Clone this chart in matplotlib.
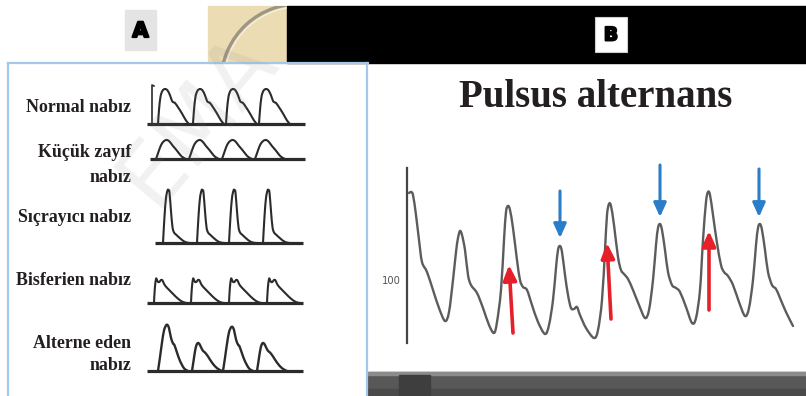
import numpy as np
import matplotlib
matplotlib.use("Agg")
import matplotlib.pyplot as plt
from matplotlib.path import Path
from matplotlib.patches import PathPatch, Rectangle, Arc, FancyArrowPatch, ArrowStyle
import matplotlib.patheffects as pe

W, H = 806, 396
DPI = 100

# ---------------- left panel: pulse types ----------------
row_labels = [["Normal nabız"], ["Küçük zayıf", "nabız"], ["Sıçrayıcı nabız"],
              ["Bisferien nabız"], ["Alterne eden", "nabız"]]
label_baselines = [[112], [157, 182], [222], [285], [348, 370]]

# beat template shapes: offset along the trace and height as a fraction of the peak
normal_dx = [0, 1, 2.5, 4.5, 7, 9.5, 12, 14, 15.5, 17, 20, 24, 28, 31]
normal_h = [0, 0.4, 0.78, 0.95, 1.0, 0.96, 0.82, 0.66, 0.62, 0.6, 0.48, 0.3, 0.1, 0]
weak_dx = [0, 2, 4, 6, 8.5, 11, 13.5, 16, 18, 20, 23, 26, 30]
weak_h = [0, 0.3, 0.6, 0.82, 0.96, 1.0, 0.92, 0.75, 0.62, 0.5, 0.3, 0.12, 0]
bound_dx = [0, 1.5, 3, 4.5, 5.5, 6.5, 8, 9.5, 11, 13, 17, 22, 27]
bound_h = [0, 0.5, 0.85, 0.99, 1.0, 0.95, 0.6, 0.3, 0.2, 0.16, 0.09, 0.02, 0]
bisf_dx = [0, 0.8, 2, 3, 4, 5.5, 7, 8.5, 10, 12, 15, 19, 24, 29, 33]
bisf_h = [0, 0.6, 1.0, 0.96, 0.88, 0.88, 0.96, 0.94, 0.8, 0.68, 0.55, 0.38, 0.18, 0.04, 0]
alt_big_dx = [0, 2, 4, 6, 8, 9.5, 11, 13, 15, 16.5, 19, 22, 26, 30]
alt_big_h = [0, 0.3, 0.62, 0.88, 0.99, 1.0, 0.93, 0.72, 0.6, 0.56, 0.4, 0.22, 0.06, 0]
alt_small_dx = [0, 1.5, 3, 4.5, 6, 7.5, 9, 11, 13, 16, 20, 25, 30]
alt_small_h = [0, 0.35, 0.7, 0.93, 1.0, 0.96, 0.85, 0.72, 0.66, 0.52, 0.3, 0.1, 0]

normal_onsets = [158, 193, 226, 259]
normal_heights = [35, 35, 35, 35]
weak_onsets = [156, 189, 222, 255]
weak_heights = [19, 19, 19, 19]
bound_onsets = [163, 197, 229, 263]
bound_heights = [53, 53, 53, 53]
bisf_onsets = [154, 191, 229, 267]
bisf_heights = [24, 24, 24, 24]
alt_onsets = [158, 192, 223, 257]
alt_heights = [46, 28, 44, 28]

row_baseline_y = [124, 159, 243, 303, 371]
row_baseline_x = [(147, 305), (150, 305), (155, 303), (147, 303), (147, 303)]

# ---------------- right panel: pulsus alternans trace ----------------
trace_t = [409, 411, 413, 416, 419, 422, 427, 433, 439, 445,
           449, 453, 456, 458, 460, 462, 465, 468, 471, 477, 483, 489, 494,
           497, 501, 504, 506, 508, 510, 513, 517, 520, 523, 527, 532, 538, 545,
           549, 553, 556, 558, 560, 562, 565, 568, 571, 574, 577, 580, 586, 594,
           598, 602, 605, 607, 609, 611, 614, 618, 621, 624, 628, 633, 639, 645,
           649, 653, 656, 658, 660, 662, 665, 668, 672, 676, 680, 686, 692,
           696, 700, 703, 706, 708, 710, 713, 717, 721, 724, 728, 733, 739, 745,
           749, 753, 756, 758, 760, 762, 765, 768, 772, 776, 780, 786, 793]
trace_p = [193, 192, 195, 215, 240, 262, 272, 290, 308, 321,
           312, 280, 252, 238, 231, 235, 250, 275, 285, 293, 308, 325, 333,
           322, 290, 240, 212, 206, 210, 228, 260, 280, 287, 290, 305, 322, 334,
           325, 300, 268, 250, 246, 252, 275, 295, 308, 309, 307, 315, 328, 338,
           330, 300, 250, 215, 204, 206, 225, 257, 270, 274, 279, 290, 305, 318,
           310, 280, 245, 228, 224, 230, 250, 272, 285, 288, 292, 307, 323,
           318, 290, 240, 202, 192, 195, 215, 243, 265, 272, 276, 285, 302, 316,
           308, 280, 245, 228, 224, 230, 250, 272, 285, 289, 298, 312, 326]

strong_beat_arrows = [((513, 333), (509, 265)), ((611, 319), (607, 243)), ((709, 310), (709, 231))]
weak_beat_arrows = [((560, 191), (560, 238)), ((660, 165), (660, 217)), ((759, 169), (759, 217))]

TEXT = "#231f20"
TRACE_DARK = "#2b2b2b"
BLUE_LINE = "#a3c8ea"


def smooth_path(xs, ys):
    pts = np.column_stack([xs, ys]).astype(float)
    n = len(pts)
    verts = [pts[0]]
    codes = [Path.MOVETO]
    for i in range(n - 1):
        p0 = pts[i - 1] if i > 0 else pts[i]
        p1, p2 = pts[i], pts[i + 1]
        p3 = pts[i + 2] if i + 2 < n else pts[i + 1]
        verts += [p1 + (p2 - p0) / 6.0, p2 - (p3 - p1) / 6.0, p2]
        codes += [Path.CURVE4] * 3
    return Path(verts, codes)


fig = plt.figure(figsize=(W / DPI, H / DPI), dpi=DPI)
fig.patch.set_facecolor("white")
ax = fig.add_axes([0, 0, 1, 1])
ax.set_xlim(0, W)
ax.set_ylim(H, 0)
ax.axis("off")

# header strip
ax.add_patch(Rectangle((125, 10), 31, 40, color="#e4e4e4", zorder=1))
ax.text(140.5, 31, "A", ha="center", va="center", fontsize=15, fontweight="bold",
        family="DejaVu Sans", color="black", zorder=2,
        path_effects=[pe.withStroke(linewidth=1.6, foreground="black")])
tan = Rectangle((208, 6), 79, 57, color="#ecdcb4", zorder=1)
ax.add_patch(tan)
for lw, col, r in [(2.4, "#9e9683", 78), (0.9, "#f7f0de", 75)]:
    arc = Arc((299, 82), 2 * r, 2 * r, angle=0, theta1=180, theta2=275, lw=lw, color=col, zorder=2)
    ax.add_patch(arc)
    arc.set_clip_path(tan)
ax.add_patch(Rectangle((287, 6), W - 287, 57, color="black", zorder=1))
ax.add_patch(Rectangle((595, 17), 32, 35, facecolor="white", edgecolor="#cfcfcf", lw=0.8, zorder=2))
ax.text(611, 35, "B", ha="center", va="center", fontsize=13.5, fontweight="bold",
        family="DejaVu Sans", color="black", zorder=3,
        path_effects=[pe.withStroke(linewidth=1.4, foreground="black")])

# panel borders
ax.plot([8, 368], [63, 63], color=BLUE_LINE, lw=1.6, zorder=3)
ax.plot([8, 8], [63, H], color=BLUE_LINE, lw=1.6, zorder=3)
ax.plot([367, 367], [63, H], color=BLUE_LINE, lw=1.6, zorder=5)

# bottom bar of the right panel
ax.add_patch(Rectangle((368, 372), W - 368, 24, color="#585858", zorder=1))
ax.add_patch(Rectangle((368, 372), W - 368, 3, color="#8c8c8c", zorder=2))
ax.add_patch(Rectangle((368, 389), W - 368, 7, color="#4a4a4a", zorder=2))
ax.add_patch(Rectangle((399, 375), 31, 21, color="#3e3e3e", zorder=2))

# left labels
for lines, ys in zip(row_labels, label_baselines):
    for line, y in zip(lines, ys):
        ax.text(131, y, line, ha="right", va="baseline", fontsize=12.9, fontweight="bold",
                family="Liberation Serif", color=TEXT, zorder=4)

# left traces
rows = [
    (normal_dx, normal_h, normal_onsets, normal_heights),
    (weak_dx, weak_h, weak_onsets, weak_heights),
    (bound_dx, bound_h, bound_onsets, bound_heights),
    (bisf_dx, bisf_h, bisf_onsets, bisf_heights),
]
for (dx, hh, onsets, heights), y0, (xa, xb) in zip(rows, row_baseline_y, row_baseline_x):
    ax.plot([xa, xb], [y0, y0], color=TRACE_DARK, lw=2.3, solid_capstyle="butt", zorder=3)
    for x0, amp in zip(onsets, heights):
        p = smooth_path(x0 + np.array(dx), y0 - amp * np.array(hh))
        ax.add_patch(PathPatch(p, fill=False, lw=1.5, edgecolor=TRACE_DARK, zorder=4))

# alternating row: large and small beats
y0 = row_baseline_y[4]
xa, xb = row_baseline_x[4]
ax.plot([xa, xb], [y0, y0], color=TRACE_DARK, lw=2.3, solid_capstyle="butt", zorder=3)
for k, (x0, amp) in enumerate(zip(alt_onsets, alt_heights)):
    dx, hh = (alt_big_dx, alt_big_h) if k % 2 == 0 else (alt_small_dx, alt_small_h)
    p = smooth_path(x0 + np.array(dx), y0 - amp * np.array(hh))
    ax.add_patch(PathPatch(p, fill=False, lw=1.7, edgecolor=TRACE_DARK, zorder=4))

# calibration mark of the normal row
ax.plot([152, 152, 154], [124, 85, 86], color=TRACE_DARK, lw=1.2, zorder=4)

# right panel title and trace
ax.text(596, 107, "Pulsus alternans", ha="center", va="baseline", fontsize=28,
        fontweight="bold", family="Liberation Serif", color=TEXT, zorder=4)
ax.plot([407, 407], [168, 343], color="#454545", lw=1.6, zorder=3)
ax.text(391, 281, "100", ha="center", va="center", fontsize=7.2, family="DejaVu Sans",
        color="#555555", zorder=4)
ax.add_patch(PathPatch(smooth_path(trace_t, trace_p), fill=False, lw=1.7,
                       edgecolor="#5c5c5c", zorder=4, capstyle="round", joinstyle="round"))

for tail, tip in strong_beat_arrows:
    ax.add_patch(FancyArrowPatch(tail, tip, arrowstyle=ArrowStyle("-|>", head_length=0.45, head_width=0.2),
                                 mutation_scale=20, lw=2.6, color="#e5202a", shrinkA=0, shrinkB=0, zorder=5))
for tail, tip in weak_beat_arrows:
    ax.add_patch(FancyArrowPatch(tail, tip, arrowstyle=ArrowStyle("-|>", head_length=0.42, head_width=0.19),
                                 mutation_scale=20, lw=2.2, color="#2a7dc8", shrinkA=0, shrinkB=0, zorder=5))

# diagonal watermark
fig.text(0.245, 0.70, "EMA", rotation=50, ha="center", va="center", fontsize=64,
         family="DejaVu Sans", color="#808080", alpha=0.11, zorder=10)

fig.savefig("out.png", dpi=DPI)
